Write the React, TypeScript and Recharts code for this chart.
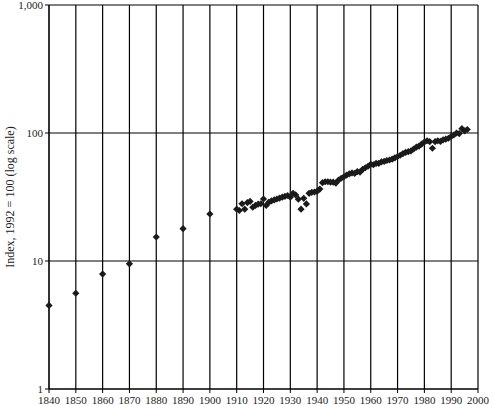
import { CartesianGrid, Scatter, ScatterChart, XAxis, YAxis } from "recharts";

// benchmark years before annual data starts
const earlyYears = [1840, 1850, 1860, 1870, 1880, 1890, 1900];
const earlyIndex = [4.5, 5.6, 7.9, 9.5, 15.4, 17.9, 23.3];

// annual series 1910-1996
const annualYears = [
  1910, 1911, 1912, 1913, 1914, 1915, 1916, 1917, 1918, 1919,
  1920, 1921, 1922, 1923, 1924, 1925, 1926, 1927, 1928, 1929,
  1930, 1931, 1932, 1933, 1934, 1935, 1936, 1937, 1938, 1939,
  1940, 1941, 1942, 1943, 1944, 1945, 1946, 1947, 1948, 1949,
  1950, 1951, 1952, 1953, 1954, 1955, 1956, 1957, 1958, 1959,
  1960, 1961, 1962, 1963, 1964, 1965, 1966, 1967, 1968, 1969,
  1970, 1971, 1972, 1973, 1974, 1975, 1976, 1977, 1978, 1979,
  1980, 1981, 1982, 1983, 1984, 1985, 1986, 1987, 1988, 1989,
  1990, 1991, 1992, 1993, 1994, 1995, 1996,
];
const annualIndex = [
  25.4, 24.8, 28.0, 25.4, 28.6, 29.2, 26.3, 27.2, 27.8, 28.0,
  30.5, 27.2, 28.8, 29.5, 30.0, 30.5, 31.0, 31.5, 32.0, 32.5,
  31.5, 33.8, 32.8, 30.4, 25.4, 30.9, 27.9, 33.8, 34.4, 34.6,
  35.0, 36.5, 40.9, 41.6, 41.6, 41.3, 41.3, 40.6, 42.9, 44.3,
  45.5, 46.9, 48.0, 48.8, 48.3, 50.0, 49.5, 52.0, 53.5, 55.0,
  57.0, 56.5, 58.0, 58.0, 59.5, 60.0, 61.0, 61.5, 62.5, 64.0,
  65.5, 67.0, 69.0, 70.5, 71.5, 72.5, 75.0, 77.5, 79.0, 82.0,
  85.0, 87.0, 85.5, 76.0, 85.5, 87.0, 86.0, 88.5, 89.5, 91.0,
  94.0, 96.5, 100.0, 99.0, 108.0, 104.0, 106.5,
];

const xTicks = [
  1840, 1850, 1860, 1870, 1880, 1890, 1900, 1910, 1920,
  1930, 1940, 1950, 1960, 1970, 1980, 1990, 2000,
];
const yTicks = [1, 10, 100, 1000];

const font = "'Liberation Serif', 'Times New Roman', serif";

const Diamond = (props: any) => {
  const { cx, cy } = props;
  if (cx == null || cy == null) return null;
  const r = 3.6;
  return (
    <polygon
      points={`${cx},${cy - r} ${cx + r},${cy} ${cx},${cy + r} ${cx - r},${cy}`}
      fill="#1a1a1a"
    />
  );
};

export default function App() {
  const data = [
    ...earlyYears.map((year, i) => ({ year, value: earlyIndex[i] })),
    ...annualYears.map((year, i) => ({ year, value: annualIndex[i] })),
  ];

  return (
    <div style={{ position: "absolute", left: 0, top: 0, background: "#fff" }}>
      <ScatterChart
        width={493}
        height={405}
        margin={{ top: 5, right: 15, bottom: 0, left: 0 }}
      >
        <CartesianGrid stroke="#000" strokeWidth={1.2} />
        <XAxis
          type="number"
          dataKey="year"
          domain={[1840, 2000]}
          ticks={xTicks}
          interval={0}
          height={16}
          tickSize={4}
          tickMargin={3}
          stroke="#000"
          tick={{ fill: "#222", fontSize: 11, fontFamily: font }}
        />
        <YAxis
          type="number"
          dataKey="value"
          scale="log"
          domain={[1, 1000]}
          ticks={yTicks}
          interval={0}
          allowDataOverflow
          width={49}
          tickSize={4}
          tickMargin={2}
          stroke="#000"
          tickFormatter={(v: number) => v.toLocaleString("en-US")}
          tick={{ fill: "#222", fontSize: 11, fontFamily: font }}
          label={{
            value: "Index, 1992 = 100 (log scale)",
            angle: -90,
            position: "insideLeft",
            offset: 10,
            style: {
              textAnchor: "middle",
              fill: "#222",
              fontSize: 12,
              fontFamily: font,
            },
          }}
        />
        <Scatter data={data} shape={Diamond} isAnimationActive={false} />
      </ScatterChart>
    </div>
  );
}
